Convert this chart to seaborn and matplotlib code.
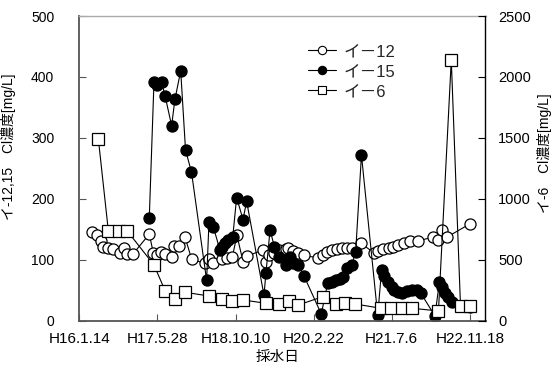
import matplotlib
matplotlib.use('Agg')
import matplotlib.pyplot as plt
import seaborn as sns
from matplotlib.lines import Line2D

# x values: days elapsed since H16.1.14 (2004-01-14)
i12_days = [83, 111, 137, 154, 186, 218, 261, 286, 303, 342,
            448, 474, 497, 523, 549, 591, 606, 640, 677, 719,
            805, 830, 858, 911, 943, 979, 1009, 1048, 1073, 1176,
            1195, 1214, 1246, 1281, 1323, 1338, 1370, 1402, 1440, 1530,
            1562, 1584, 1616, 1648, 1680, 1712, 1744, 1803, 1888, 1914,
            1946, 1982, 2010, 2040, 2078, 2117, 2168, 2262, 2298, 2320,
            2352, 2501]
i12_vals = [145, 140, 131, 121, 120, 118, 111, 119, 109, 109,
            142, 111, 108, 112, 109, 104, 123, 123, 137, 101,
            94, 101, 94, 101, 103, 104, 140, 97, 106, 116,
            97, 108, 111, 116, 117, 119, 115, 111, 107, 103,
            108, 112, 116, 117, 119, 119, 119, 127, 111, 114,
            117, 120, 121, 124, 127, 130, 131, 137, 133, 149,
            137, 159]

i15_days = [448, 478, 495, 527, 549, 591, 612, 649, 680, 718,
            815, 830, 858, 900, 913, 932, 954, 982, 1007, 1048,
            1071, 1182, 1195, 1221, 1249, 1281, 1321, 1349, 1370, 1403,
            1439, 1549, 1590, 1616, 1641, 1669, 1690, 1712, 1744, 1769,
            1806, 1910, 1935, 1952, 1978, 1999, 2016, 2040, 2065, 2095,
            2127, 2159, 2184, 2276, 2305, 2320, 2341, 2362, 2383, 2447,
            2501]
i15_vals = [169, 392, 387, 391, 369, 320, 363, 410, 280, 244,
            66, 162, 154, 116, 121, 127, 132, 137, 202, 166,
            196, 42, 79, 149, 121, 105, 92, 104, 95, 91,
            73, 11, 62, 63, 66, 68, 71, 86, 91, 113,
            272, 9, 83, 73, 64, 56, 50, 47, 45, 48,
            50, 50, 46, 8, 63, 56, 45, 39, 31, 24,
            22]

i6_days = [122, 186, 256, 307, 478, 550, 613, 678, 828, 915,
           979, 1048, 1195, 1278, 1344, 1402, 1558, 1646, 1702, 1766,
           1931, 1998, 2065, 2130, 2299, 2381, 2440, 2500]
i6_vals = [1490, 736, 736, 736, 457, 244, 180, 233, 203, 178,
           162, 170, 143, 135, 164, 129, 197, 137, 143, 137,
           102, 102, 102, 102, 80, 2140, 121, 121]

xtick_days = [0, 500, 1000, 1500, 2000, 2500]
xtick_labels = ['H16.1.14', 'H17.5.28', 'H18.10.10', 'H20.2.22', 'H21.7.6', 'H22.11.18']
series_names = ['イ－12', 'イ－15', 'イ－6']

sns.set_theme(style='white')
plt.rcParams['font.family'] = ['Liberation Sans', 'Noto Sans CJK JP', 'DejaVu Sans']

W, H = 553, 371
fig = plt.figure(figsize=(W / 100, H / 100), dpi=100)
L, R, T, B = 79.3, 485.5, 16.0, 320.7
ax = fig.add_axes([L / W, 1 - B / H, (R - L) / W, (B - T) / H])
ax2 = ax.twinx()

lw = 0.8
ms = 8
sns.lineplot(x=i12_days, y=i12_vals, ax=ax, color='black', lw=lw, marker='o',
             markersize=ms, markerfacecolor='white', markeredgecolor='black',
             markeredgewidth=0.9, legend=False)
sns.lineplot(x=i15_days, y=i15_vals, ax=ax, color='black', lw=lw, marker='o',
             markersize=ms, markerfacecolor='black', markeredgecolor='black',
             markeredgewidth=0.9, legend=False)
sns.lineplot(x=i6_days, y=i6_vals, ax=ax2, color='black', lw=lw, marker='s',
             markersize=ms, markerfacecolor='white', markeredgecolor='black',
             markeredgewidth=0.9, legend=False)

ax.set_xlim(0, 2600)
ax.set_ylim(0, 500)
ax2.set_ylim(0, 2500)
ax.set_xticks(xtick_days)
ax.set_xticklabels(xtick_labels)
ax.set_yticks(range(0, 501, 100))
ax2.set_yticks(range(0, 2501, 500))
ax.set_xlabel('')
ax.set_ylabel('')
ax2.set_ylabel('')

for s in ['left', 'bottom']:
    ax.spines[s].set_color('#555555')
    ax.spines[s].set_linewidth(1.3)
ax.spines['top'].set_color('#aaaaaa')
ax.spines['top'].set_linewidth(1.0)
ax.spines['right'].set_visible(False)
for s in ['left', 'bottom', 'top']:
    ax2.spines[s].set_visible(False)
ax2.spines['right'].set_color('black')
ax2.spines['right'].set_linewidth(1.0)

ax.tick_params(axis='y', direction='in', length=5, width=0.8, color='#555555',
               labelsize=10, pad=18, left=True)
ax.tick_params(axis='x', direction='in', length=5, width=0.8, color='#555555',
               labelsize=11, pad=8, bottom=True)
ax2.tick_params(axis='y', direction='in', length=5, width=0.8, color='black',
                labelsize=10.5, pad=9, right=True)
for t in ax.get_xticklabels() + ax.get_yticklabels() + ax2.get_yticklabels():
    t.set_color('black')

fig.text(9 / W, 1 - 147 / H, 'イ-12,15　Cl濃度[mg/L]', rotation=90,
         ha='center', va='center', fontsize=10, color='black')
fig.text(545 / W, 1 - 153 / H, 'イ-6　Cl濃度[mg/L]', rotation=90,
         ha='center', va='center', fontsize=10, color='black')
fig.text(278 / W, 1 - 357 / H, '採水日', ha='center', va='center',
         fontsize=10.5, color='black')

handles = [
    Line2D([], [], color='black', lw=lw, marker='o', ms=6, mfc='white', mec='black', mew=0.8),
    Line2D([], [], color='black', lw=lw, marker='o', ms=6, mfc='black', mec='black', mew=0.8),
    Line2D([], [], color='black', lw=lw, marker='s', ms=6, mfc='white', mec='black', mew=0.8),
]
leg = fig.legend(handles, series_names, loc='upper left',
                 bbox_to_anchor=(308 / W, 1 - 44 / H), frameon=False,
                 fontsize=12, handlelength=1.7, handletextpad=0.45,
                 labelspacing=0.3, borderpad=0, borderaxespad=0)

fig.savefig('out.png', dpi=100)
